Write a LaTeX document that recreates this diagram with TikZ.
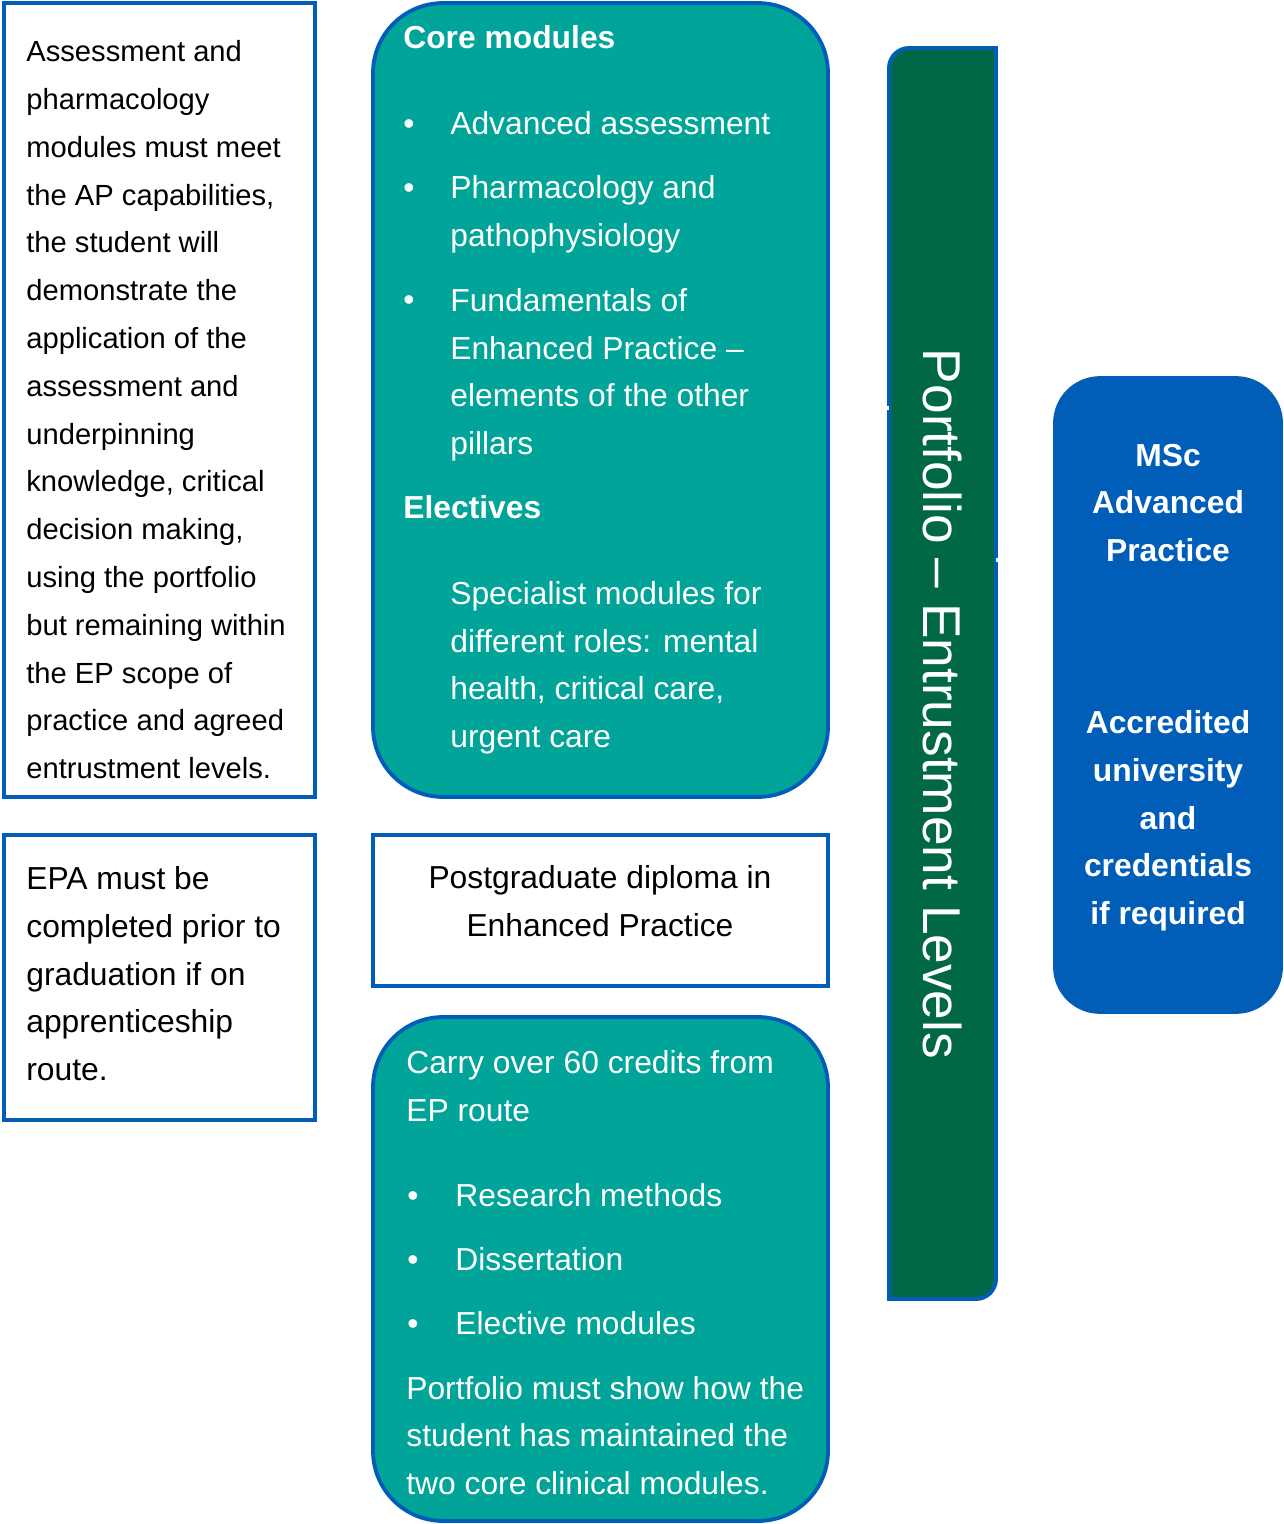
\documentclass[tikz,border=0pt]{standalone}
\usepackage{fontspec}
\setmainfont{Liberation Sans}
\definecolor{nhsblue}{HTML}{005EB8}
\definecolor{aqua}{HTML}{00A499}
\definecolor{darkgreen}{HTML}{006747}
\tikzset{
  box/.style={draw=nhsblue, line width=2.2pt, inner sep=0pt},
  whitebox/.style={box, fill=white},
  tealbox/.style={box, fill=aqua, rounded corners=1.4cm},
  mscbox/.style={box, fill=nhsblue, rounded corners=0.9cm},
  txt/.style={anchor=mid west, align=left, inner sep=0pt, font=\fontsize{18.1}{27.2}\selectfont},
  smalltxt/.style={txt, font=\fontsize{16.6}{27.2}\selectfont},
  wtxt/.style={txt, text=white},
  head/.style={wtxt, font=\fontsize{18.1}{27.2}\selectfont\bfseries},
  dot/.style={anchor=mid, inner sep=0pt, text=white, font=\fontsize{18.1}{27.2}\selectfont},
  link/.style={draw=white, line width=2pt},
}
\begin{document}
\begin{tikzpicture}[x=0.02cm, y=-0.02cm]
    \useasboundingbox (0,0) rectangle (1284,1524);

    % left column (multi-line texts sit on their last line)
    \node[whitebox, minimum width=6.22cm, minimum height=15.88cm] (assess) at (159.5,400) {};
    \node[smalltxt] (assesstxt) at (26,774) {Assessment and\\pharmacology\\modules must meet\\the AP capabilities,\\the student will\\demonstrate the\\application of the\\assessment and\\underpinning\\knowledge, critical\\decision making,\\using the portfolio\\but remaining within\\the EP scope of\\practice and agreed\\entrustment levels.};

    \node[whitebox, minimum width=6.22cm, minimum height=5.70cm] (epa) at (159.5,977.5) {};
    \node[txt] (epatxt) at (26,1076) {EPA must be\\completed prior to\\graduation if on\\apprenticeship\\route.};

    % middle column
    \node[tealbox, minimum width=9.10cm, minimum height=15.88cm] (core) at (600.5,400) {};
    \node[head] (corehead) at (403,44) {Core modules};
    \foreach \y in {130,194,306}
        \node[dot] (coredot\y) at (409,\y) {\textbullet};
    \node[wtxt] (core1) at (450,130) {Advanced assessment};
    \node[wtxt] (core2) at (450,242) {Pharmacology and\\pathophysiology};
    \node[wtxt] (core3) at (450,450) {Fundamentals of\\Enhanced Practice –\\elements of the other\\pillars};
    \node[head] (elechead) at (403,514) {Electives};
    \node[wtxt] (electxt) at (450,743) {Specialist modules for\\different roles: mental\\health, critical care,\\urgent care};

    \node[whitebox, minimum width=9.10cm, minimum height=3.02cm] (pgd) at (600.5,910.5) {};
    \node[txt, anchor=mid, align=center] (pgdtxt) at (600,932) {Postgraduate diploma in\\Enhanced Practice};

    \node[tealbox, minimum width=9.10cm, minimum height=10.08cm] (carry) at (600.5,1269) {};
    \node[wtxt] (carrytxt) at (406,1117) {Carry over 60 credits from\\EP route};
    \foreach \y in {1202,1266,1330}
        \node[dot] (carrydot\y) at (413,\y) {\textbullet};
    \node[wtxt] (carry1) at (455,1202) {Research methods};
    \node[wtxt] (carry2) at (455,1266) {Dissertation};
    \node[wtxt] (carry3) at (455,1330) {Elective modules};
    \node[wtxt] (carrynote) at (406,1490) {Portfolio must show how the\\student has maintained the\\two core clinical modules.};

    % portfolio bar
    \node[inner sep=0pt, minimum width=2.14cm, minimum height=25.02cm] (port) at (942.5,673.5) {};
    \draw[fill=darkgreen, draw=nhsblue, line width=2.2pt]
        (889,1299) -- (889,68) arc[start angle=180, end angle=270, radius=20]
        -- (996,48) -- (996,1279) arc[start angle=0, end angle=90, radius=20] -- cycle;
    \node[rotate=-90, inner sep=0pt, text=white, font=\fontsize{30.3}{36}\selectfont] (porttxt) at (943,704) {Portfolio – Entrustment Levels};

    % right column
    \node[mscbox, minimum width=4.52cm, minimum height=12.68cm] (msc) at (1168,695) {};
    \node[head, anchor=mid, align=center] (msctxt) at (1168,557) {MSc\\Advanced\\Practice};
    \node[head, anchor=mid, align=center] (acctxt) at (1168,920) {Accredited\\university\\and\\credentials\\if required};

    % links
    \draw[link] (assess.east |- 0,143) -- (core.west |- 0,143);
    \draw[link] (epa.east |- 0,900) -- (pgd.west |- 0,900);
    \draw[link] (core.east |- 0,408) -- (port.west |- 0,408);
    \draw[link] (port.east |- 0,560) -- (msc.west |- 0,560);
\end{tikzpicture}
\end{document}
